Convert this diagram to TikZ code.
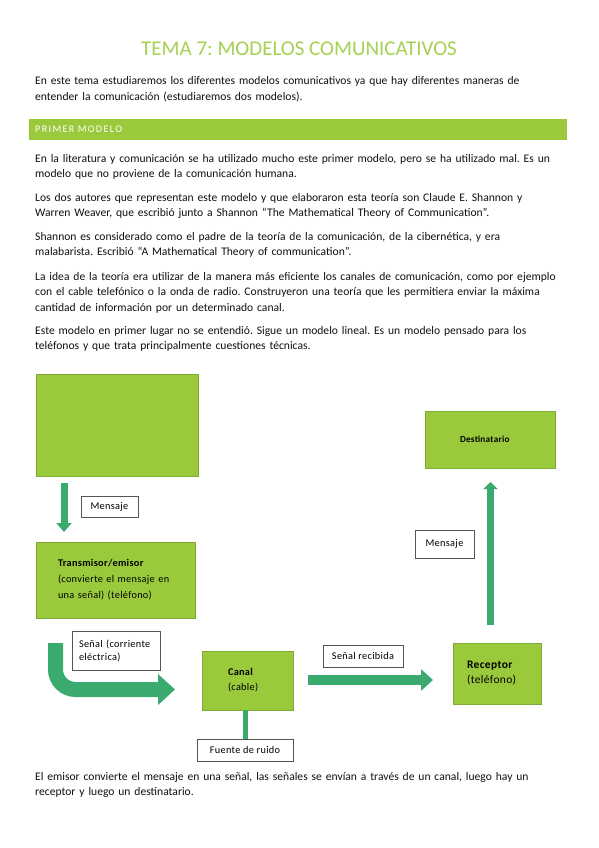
\documentclass[tikz,border=0pt]{standalone}
\usepackage{fontspec}
\setmainfont{Carlito}
\usetikzlibrary{arrows.meta}
\definecolor{boxgreen}{HTML}{9ACA3C}
\definecolor{boxedge}{HTML}{7FAA36}
\definecolor{titlegreen}{HTML}{A6D152}
\definecolor{arrowgreen}{HTML}{3BAA6F}
\definecolor{tboxedge}{HTML}{555555}
\definecolor{bodytext}{HTML}{111111}
\newcommand{\dfont}[2]{\fontsize{#1}{#2}\selectfont\addfontfeature{LetterSpace=3}}
\tikzset{
  para/.style={anchor=base west, align=left, text width=560pt, inner sep=0pt,
    text=bodytext, font=\fontsize{11.6}{15.6}\selectfont},
  gbox/.style={draw=boxedge, fill=boxgreen, line width=0.8pt, inner ysep=0pt, align=left},
  tbox/.style={draw=tboxedge, fill=white, line width=0.9pt, inner sep=0pt,
    font=\dfont{10.3}{13}},
  blk/.style={draw=arrowgreen, line width=7pt},
}
\begin{document}
\frenchspacing
\begin{tikzpicture}[x=1pt,y=-1pt]
\path[use as bounding box, fill=white] (0,0) rectangle (599,848);

% title
\node[text=titlegreen, font=\fontsize{21}{24}\selectfont, inner sep=0pt] (title) at (299,49) {TEMA 7: MODELOS COMUNICATIVOS};

\node[para] (p1) at (35,85) {En este tema estudiaremos los diferentes modelos comunicativos ya que hay diferentes maneras de\\entender la comunicación (estudiaremos dos modelos).};

% banner
\node[fill=boxgreen, anchor=west, minimum width=538pt, minimum height=21pt, inner xsep=6pt, inner ysep=0pt,
  text width=526pt, align=left, text=white, font=\fontsize{10.2}{11}\selectfont\addfontfeature{LetterSpace=13}] (banner) at (29,129.5) {PRIMER MODELO};

\node[para] (p2) at (35,162) {En la literatura y comunicación se ha utilizado mucho este primer modelo, pero se ha utilizado mal. Es un\\modelo que no proviene de la comunicación humana.};
\node[para] (p3) at (35,201) {Los dos autores que representan este modelo y que elaboraron esta teoría son Claude E. Shannon y\\Warren Weaver, que escribió junto a Shannon “The Mathematical Theory of Communication”.};
\node[para] (p4) at (35,240) {Shannon es considerado como el padre de la teoría de la comunicación, de la cibernética, y era\\malabarista. Escribió “A Mathematical Theory of communication”.};
\node[para] (p5) at (35,280) {La idea de la teoría era utilizar de la manera más eficiente los canales de comunicación, como por ejemplo\\con el cable telefónico o la onda de radio. Construyeron una teoría que les permitiera enviar la máxima\\cantidad de información por un determinado canal.};
\node[para] (p6) at (35,334) {Este modelo en primer lugar no se entendió. Sigue un modelo lineal. Es un modelo pensado para los\\teléfonos y que trata principalmente cuestiones técnicas.};

% diagram boxes
\node[gbox, minimum width=162pt, minimum height=102pt] (source) at (117,425) {};
\node[gbox, minimum width=130pt, minimum height=57pt, inner xsep=35pt, text width=60pt,
  font=\bfseries\dfont{9.2}{11}] (dest) at (490,439.5) {Destinatario};
\node[gbox, minimum width=159pt, minimum height=76pt, inner xsep=22pt, text width=115pt,
  font=\dfont{10.3}{16}] (trans) at (115.5,580) {\textbf{Transmisor/emisor}\\(convierte el mensaje en\\una señal) (teléfono)};
\node[gbox, minimum width=91pt, minimum height=59pt, inner xsep=26pt, text width=39pt,
  font=\dfont{10.3}{15}] (canal) at (247.5,680.5) {\textbf{Canal}\\(cable)};
\node[gbox, minimum width=88pt, minimum height=61pt, inner xsep=14pt, text width=60pt,
  font=\dfont{11.5}{15}] (recep) at (497,673.5) {\textbf{Receptor}\\(teléfono)};

% text boxes
\node[tbox, minimum width=57pt, minimum height=21pt] (msg1) at (109.5,506.5) {Mensaje};
\node[tbox, minimum width=59pt, minimum height=28pt] (msg2) at (444.5,544) {Mensaje};
\node[tbox, minimum width=88pt, minimum height=39pt, inner xsep=7pt, text width=74pt, align=left] (senal) at (116,650.5) {Señal (corriente\\eléctrica)};
\node[tbox, minimum width=80pt, minimum height=22pt] (recib) at (363,656) {Señal recibida};
\node[tbox, minimum width=96pt, minimum height=22pt] (fuente) at (245,750) {Fuente de ruido};

% arrows
\coordinate (a1s) at (64,483);
\coordinate (a1e) at (64,532);
\draw[blk, -{Triangle[width=15pt,length=9pt]}] (a1s) -- (a1e);

\coordinate (a2s) at (55.5,643);
\coordinate (a2c) at (55.5,689.5);
\coordinate (a2e) at (175,689.5);
\draw[draw=arrowgreen, line width=15pt, rounded corners=20pt, -{Triangle[width=30pt,length=17pt]}] (a2s) -- (a2c) -- (a2e);

\coordinate (a3s) at (308,680);
\coordinate (a3e) at (433,680);
\draw[draw=arrowgreen, line width=10pt, -{Triangle[width=21pt,length=12pt]}] (a3s) -- (a3e);

\coordinate (a4s) at (490.5,625);
\coordinate (a4e) at (490.5,482);
\draw[blk, -{Triangle[width=14pt,length=7pt]}] (a4s) -- (a4e);

\draw[draw=arrowgreen, line width=5pt] ([xshift=-2.5pt]canal.south) -- ([xshift=-2.5pt]canal.south |- fuente.north);

\node[para] (p7) at (35,780) {El emisor convierte el mensaje en una señal, las señales se envían a través de un canal, luego hay un\\receptor y luego un destinatario.};
\end{tikzpicture}
\end{document}
